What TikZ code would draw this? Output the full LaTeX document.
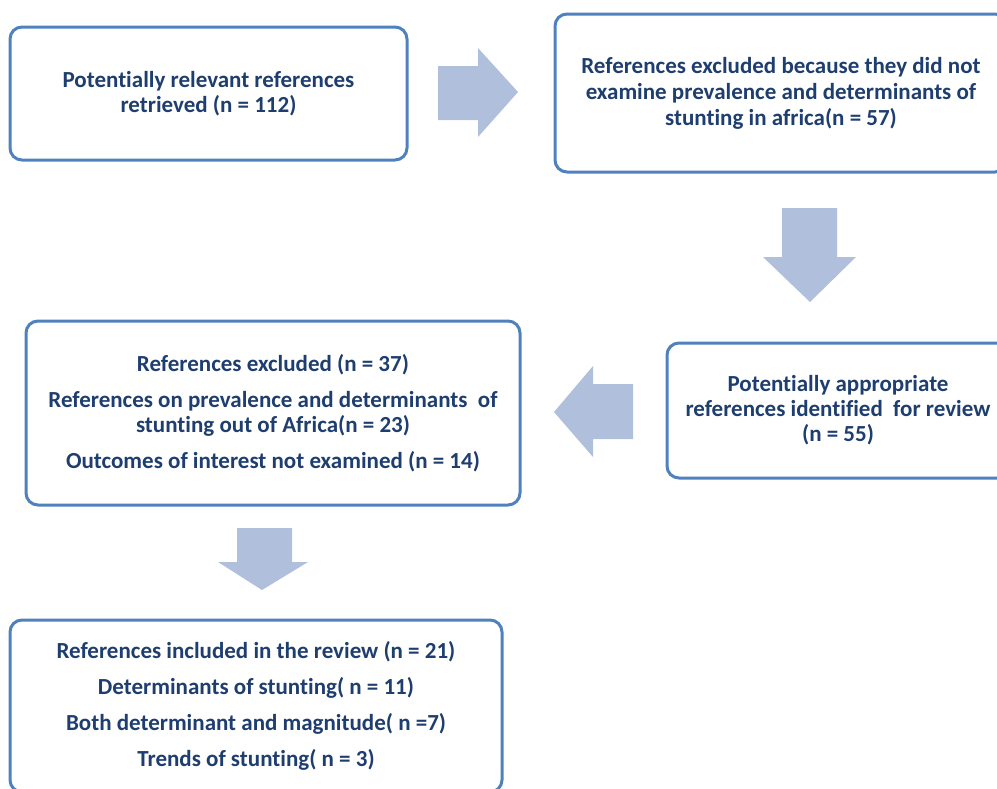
\documentclass[tikz,border=0pt]{standalone}
\usepackage{fontspec}
\setmainfont{Carlito}[Ligatures=NoCommon]
\definecolor{boxline}{RGB}{79,129,189}
\definecolor{boxtext}{RGB}{31,62,112}
\definecolor{arrowfill}{RGB}{176,192,220}
\begin{document}
\begin{tikzpicture}[x=1pt,y=-1pt,
		flowbox/.style={draw=boxline,line width=3pt,rounded corners=12pt,fill=white,
			align=center,text=boxtext,inner sep=0pt,
			font=\bfseries\fontsize{23}{25}\selectfont},
		blockarrow/.style={fill=arrowfill}]
	\useasboundingbox (0,0) rectangle (997,788);
	\clip (0,0) rectangle (997,788);
	% boxes
	\node[flowbox,minimum width=397,minimum height=133] (retrieved) at (208.5,93.5)
		{Potentially relevant references\\retrieved (n = 112)};
	\node[flowbox,minimum width=452,minimum height=158] (exclA) at (781,93)
		{References excluded because they did not\\[1pt]examine prevalence and determinants of\\[1pt]stunting in africa(n = 57)};
	\node[flowbox,minimum width=342,minimum height=135] (appropriate) at (838,410.5)
		{Potentially appropriate\\references identified\ \ for review\\(n = 55)};
	\node[flowbox,minimum width=494,minimum height=184] (exclB) at (273,413)
		{References excluded (n = 37)\\[11pt]
		 References on prevalence and determinants\ \ of\\stunting out of Africa(n = 23)\\[11pt]
		 Outcomes of interest not examined (n = 14)};
	\node[flowbox,minimum width=492,minimum height=172] (included) at (256,706)
		{References included in the review (n = 21)\\[11pt]
		 Determinants of stunting( n = 11)\\[11pt]
		 Both determinant and magnitude( n =7)\\[11pt]
		 Trends of stunting( n = 3)};
	% block arrows
	\fill[blockarrow] (438,66) -- (478,66) -- (478,48) -- (518,92) -- (478,137) -- (478,120) -- (438,120) -- cycle;
	\fill[blockarrow] (782,208) -- (837,208) -- (837,257) -- (856,257) -- (810,302) -- (763,257) -- (782,257) -- cycle;
	\fill[blockarrow] (633,384) -- (593,384) -- (593,366) -- (554,412) -- (593,457) -- (593,439) -- (633,439) -- cycle;
	\fill[blockarrow] (237,528) -- (292,528) -- (292,562) -- (308,562) -- (262,590) -- (218,562) -- (237,562) -- cycle;
\end{tikzpicture}
\end{document}
